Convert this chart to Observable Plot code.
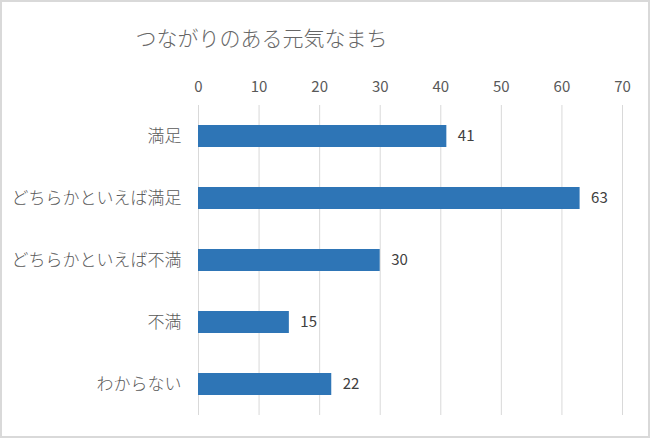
<!DOCTYPE html>
<html>
<head>
<meta charset="utf-8">
<script src="https://cdn.jsdelivr.net/npm/d3@7"></script>
<script src="https://cdn.jsdelivr.net/npm/@observablehq/plot@0.6"></script>
<style>
  html, body { margin: 0; padding: 0; background: #fff; }
  #wrap { position: relative; width: 650px; height: 438px; overflow: hidden; font-family: "Noto Sans CJK JP", "Noto Sans", sans-serif; }
  #frame { position: absolute; left: 0; top: 0; right: 0; bottom: 0; border: 2px solid #d9d9d9; pointer-events: none; }
  #title { position: absolute; left: 0; width: 523px; top: 22px; text-align: center; font-size: 21px; font-weight: 300; line-height: 30px; color: #666; white-space: nowrap; }
  #chart { position: absolute; left: 0; top: 60px; }
  #chart svg .ytick text { font-weight: 300; }
</style>
</head>
<body>
<div id="wrap">
  <div id="title">つながりのある元気なまち</div>
  <div id="chart"></div>
  <div id="frame"></div>
</div>
<script>
const categories = ["満足", "どちらかといえば満足", "どちらかといえば不満", "不満", "わからない"];
const values = [41, 63, 30, 15, 22];
const xTicks = [0, 10, 20, 30, 40, 50, 60, 70];

const data = categories.map((c, i) => ({category: c, value: values[i]}));

const chart = Plot.plot({
  width: 650,
  height: 378,
  marginTop: 45,
  marginBottom: 23,
  marginLeft: 198,
  marginRight: 28,
  style: { fontFamily: '"Noto Sans CJK JP", "Noto Sans", sans-serif', fontSize: "14px", color: "#595959", background: "transparent" },
  x: { domain: [0, 70] },
  y: { domain: categories, paddingInner: 0.645, paddingOuter: 0.3225 },
  marks: [
    Plot.gridX(xTicks, { stroke: "#d9d9d9", strokeOpacity: 1, strokeWidth: 1 }),
    Plot.barX(data, { x: "value", y: "category", fill: "#2e75b6" }),
    Plot.text(data, { x: "value", y: "category", text: d => String(d.value), dx: 11, textAnchor: "start", fontSize: 15, fill: "#404040" }),
    Plot.axisX(xTicks, { anchor: "top", tickSize: 0, tickPadding: 14, fontSize: 15, fill: "#595959", label: null }),
    Plot.axisY({ anchor: "left", tickSize: 0, tickPadding: 17, fontSize: 17, fill: "#595959", label: null, className: "ytick" })
  ]
});
document.getElementById("chart").appendChild(chart);
</script>
</body>
</html>
